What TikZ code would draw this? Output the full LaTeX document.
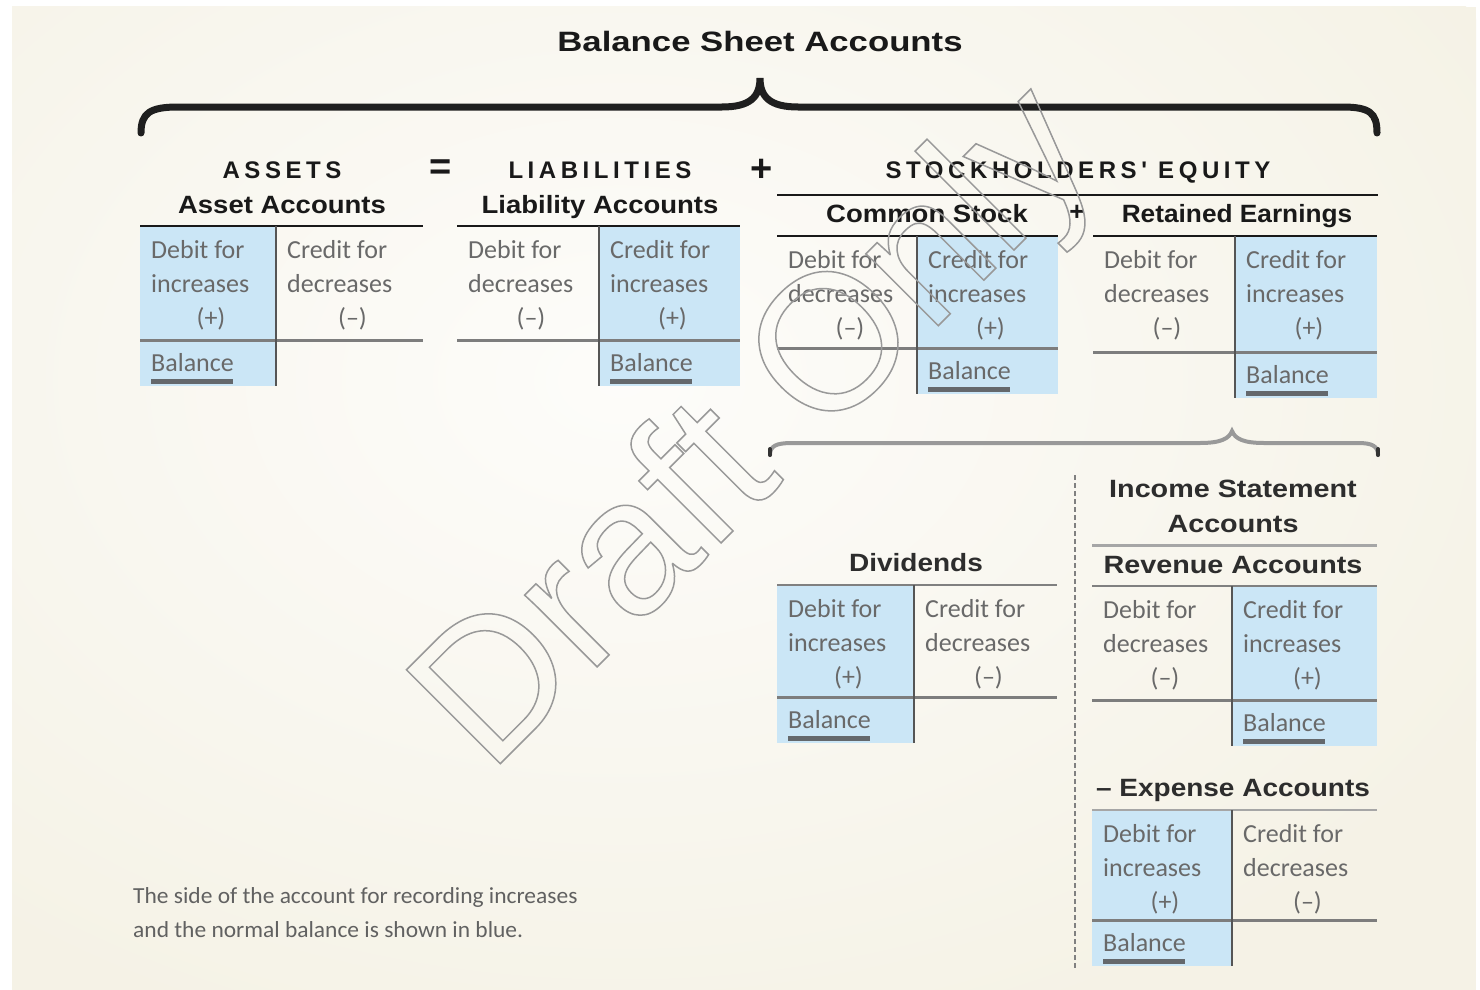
\documentclass[tikz,border=0pt]{standalone}
\usepackage{fontspec}
\setmainfont{Liberation Sans}
\newfontfamily\bodyfont{Carlito}
\newfontfamily\capfont{Liberation Sans}[LetterSpace=19, Ligatures=TeXOff]
\definecolor{acctblue}{RGB}{203,230,246}
\definecolor{cream}{RGB}{245,242,230}
\definecolor{bodygray}{RGB}{105,105,105}
\definecolor{midgray}{RGB}{125,125,125}
\definecolor{vgray}{RGB}{85,85,85}
\definecolor{bargray}{RGB}{100,104,108}
\definecolor{lowhead}{RGB}{45,45,45}
\newcommand\hs[1]{\scalebox{1.1}[1]{#1}}
\tikzset{
  acctxt/.style={font=\bodyfont\fontsize{26}{30}\selectfont, text=bodygray, inner sep=0pt, text height=16pt, text depth=0pt},
  headtxt/.style={font=\bfseries\fontsize{25}{30}\selectfont, text=black!90, inner sep=0pt, text height=18pt, text depth=0pt},
  caphead/.style={font=\capfont\bfseries\fontsize{24}{30}\selectfont, text=black!90, inner sep=0pt, text height=17pt, text depth=0pt},
  lowheadtxt/.style={headtxt, text=lowhead},
  opsign/.style={font=\bfseries\fontsize{38}{40}\selectfont, text=black!90, inner sep=0pt},
  notetxt/.style={font=\bodyfont\fontsize{23}{28}\selectfont, text=black!62, inner sep=0pt, anchor=west, text height=15pt, text depth=0pt},
  topline/.style={line width=2.5pt},
  midline/.style={line width=3pt, draw=midgray},
  vline/.style={line width=2.5pt, draw=vgray},
  balbar/.style={line width=5pt, draw=bargray},
  bigbrace/.style={line width=7pt, line cap=round, draw=black!88},
  smallbrace/.style={line width=4pt, line cap=round, draw=black!40},
}
% #1 name, #2 xL, #3 xM, #4 xR, #5 yT, #6 yM, #7 side (0 left blue, 1 right blue), #8 top line colour
\newcommand\tacct[8]{%
  \pgfmathsetmacro\yB{#6+46}%
  \ifnum#7=0
    \fill[acctblue] (#2,#5) rectangle (#3,\yB);
    \def\lineL{increases}\def\signL{(+)}\def\lineR{decreases}\def\signR{(–)}%
    \pgfmathsetmacro\balx{#2+11}%
  \else
    \fill[acctblue] (#3,#5) rectangle (#4,\yB);
    \def\lineL{decreases}\def\signL{(–)}\def\lineR{increases}\def\signR{(+)}%
    \pgfmathsetmacro\balx{#3+11}%
  \fi
  \draw[topline, draw=#8] (#2,#5) -- (#4,#5);
  \draw[midline] (#2,#6) -- (#4,#6);
  \draw[vline] (#3,#5) -- (#3,\yB);
  \node[acctxt, anchor=west] (#1-d1) at ({#2+11},{#5+24}) {Debit for};
  \node[acctxt, anchor=west] (#1-d2) at ({#2+11},{#5+58}) {\lineL};
  \node[acctxt] (#1-d3) at ({(#2+#3)/2+3},{#5+92}) {\signL};
  \node[acctxt, anchor=west] (#1-c1) at ({#3+11},{#5+24}) {Credit for};
  \node[acctxt, anchor=west] (#1-c2) at ({#3+11},{#5+58}) {\lineR};
  \node[acctxt] (#1-c3) at ({(#3+#4)/2+3},{#5+92}) {\signR};
  \node[acctxt, anchor=west] (#1-bal) at (\balx,{#6+23}) {Balance};
  \draw[balbar] (\balx,{#6+41}) -- ({\balx+82},{#6+41});
}
\begin{document}
\begin{tikzpicture}[x=1pt,y=-1pt]
\useasboundingbox (0,0) rectangle (1480,990);
% background
\fill[white] (0,0) rectangle (1480,990);
\begin{scope}
  \clip (12,7) rectangle (1476,990);
  \fill[cream] (12,7) rectangle (1476,990);
  \shade[inner color=white!80!cream, outer color=cream] (620,380) ellipse [x radius=1000, y radius=700];
\end{scope}

% title and big brace
\node[font=\bfseries\fontsize{28}{32}\selectfont, text=black!90, inner sep=0pt, text height=20pt, text depth=0pt] (title) at (760,42) {\scalebox{1.24}[1]{Balance Sheet Accounts}};
\draw[bigbrace] (141,133) .. controls (141,113) and (150,107) .. (178,107) -- (722,107)
  .. controls (750,107) and (760,97) .. (760,78)
  .. controls (760,97) and (770,107) .. (798,107) -- (1342,107)
  .. controls (1370,107) and (1377,113) .. (1377,133);

% headings
\node[caphead] (assets) at (282,170) {ASSETS};
\node[headtxt] (assetacc) at (282,204) {\hs{Asset Accounts}};
\node[opsign] (eq) at (441,170) {=};
\node[caphead] (liab) at (600,170) {LIABILITIES};
\node[headtxt] (liabacc) at (600,204) {\hs{Liability Accounts}};
\node[opsign] (plus1) at (762,170) {+};
\node[caphead] (se) at (1078,170) {STOCKHOLDERS' EQUITY};
\draw[topline, draw=black!90] (777,195) -- (1378,195);
\node[headtxt] (cs) at (927,213) {\hs{Common Stock}};
\node[font=\bfseries\fontsize{26}{28}\selectfont, text=black!90, inner sep=0pt] (plus2) at (1077,213) {+};
\node[headtxt] (re) at (1237,213) {\scalebox{1.05}[1]{Retained Earnings}};

% upper T accounts
\tacct{asset}{140}{276}{423}{226}{340}{0}{black!90}
\tacct{liab}{457}{599}{740}{226}{340}{1}{black!90}
\tacct{cstock}{777}{917}{1058}{236}{348}{1}{black!90}
\tacct{retain}{1093}{1235}{1377}{236}{352}{1}{black!90}

% second brace
\draw[smallbrace] (770,455) .. controls (770,446) and (776,443) .. (792,443) -- (1200,443)
  .. controls (1220,443) and (1229,439) .. (1232,431)
  .. controls (1235,439) and (1244,443) .. (1264,443) -- (1358,443)
  .. controls (1372,443) and (1378,446) .. (1378,455);
\draw[line width=4pt, line cap=round, draw=black!80] (770,455) -- (770,449);
\draw[line width=4pt, line cap=round, draw=black!80] (1378,455) -- (1378,449);

% dashed separator
\coordinate (dtop) at (1075,475);
\coordinate (dbot) at (1075,968);
\draw[line width=2pt, draw=black!50, dash pattern=on 5pt off 3pt] (dtop) -- (dbot);

% lower headings
\node[lowheadtxt] (inc1) at (1233,488) {\scalebox{1.15}[1]{Income Statement}};
\node[lowheadtxt] (inc2) at (1233,523) {\scalebox{1.15}[1]{Accounts}};
\draw[line width=3pt, draw=black!35] (1092,545) -- (1377,545);
\node[lowheadtxt] (rev) at (1233,564) {\scalebox{1.15}[1]{Revenue Accounts}};
\node[lowheadtxt] (div) at (916,562) {\scalebox{1.12}[1]{Dividends}};
\node[lowheadtxt] (exp) at (1233,787) {\scalebox{1.12}[1]{– Expense Accounts}};

% lower T accounts
\tacct{divid}{777}{914}{1057}{585}{697}{0}{black!50}
\tacct{reven}{1092}{1232}{1377}{586}{700}{1}{black!50}
\tacct{expen}{1092}{1232}{1377}{810}{920}{0}{black!35}

% footnote
\node[notetxt] (fn1) at (133,896) {\scalebox{1.02}[1]{The side of the account for recording increases}};
\node[notetxt] (fn2) at (133,930) {\scalebox{1.02}[1]{and the normal balance is shown in blue.}};

% watermark (stroked outline text)
\node[rotate=45, anchor=base west, inner sep=0pt, font=\fontsize{193}{193}\selectfont] (wm) at (489,775)
  {\special{pdf:literal direct q 1 Tr 1.5 w 0.6 G}Draft Only\special{pdf:literal direct 0 Tr Q}};
\end{tikzpicture}
\end{document}
